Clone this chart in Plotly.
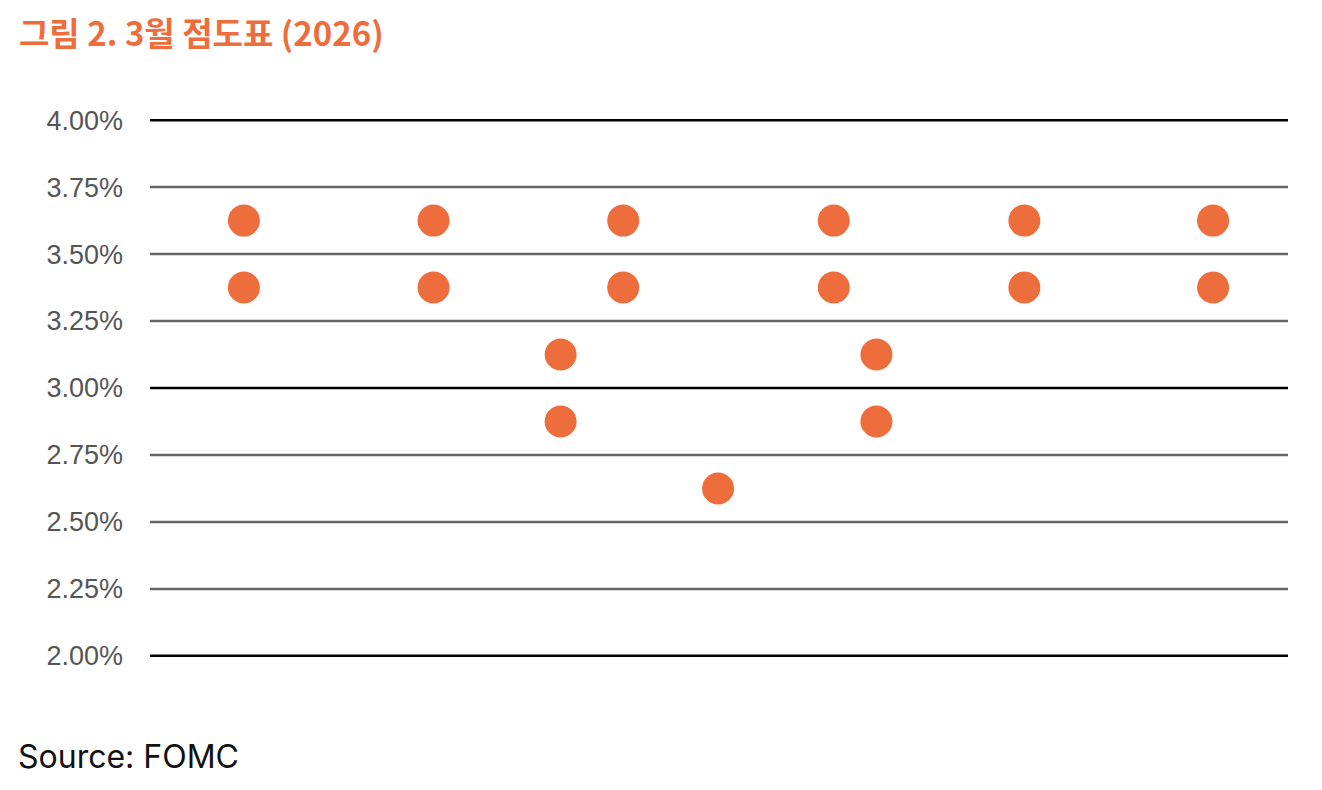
import plotly.graph_objects as go

# Dot plot data (position along the row, rate in %)
dot_x = [0.99, 0.99, 2.99, 2.99, 4.33, 4.33, 4.99, 4.99, 5.99,
         7.21, 7.21, 7.66, 7.66, 9.22, 9.22, 11.21, 11.21]
dot_y = [3.625, 3.375, 3.625, 3.375, 3.125, 2.875, 3.625, 3.375, 2.625,
         3.625, 3.375, 3.125, 2.875, 3.625, 3.375, 3.625, 3.375]

tick_vals = [2.00, 2.25, 2.50, 2.75, 3.00, 3.25, 3.50, 3.75, 4.00]
tick_text = ["2.00%", "2.25%", "2.50%", "2.75%", "3.00%", "3.25%", "3.50%", "3.75%", "4.00%"]
dark_lines = [2.00, 3.00, 4.00]

ORANGE = "#ED6D3D"

# page offset (body margin) compensation
OFF = 8
W, H = 1322 - OFF, 790 - OFF
PAD = 0.008            # small range padding so edge lines are not clipped
PX_PER_UNIT = 268.0
padpx = PAD * PX_PER_UNIT
ML, MR = 150 - OFF, 34
MT, MB = 120 - OFF - padpx, 134 - padpx

fig = go.Figure()
fig.add_trace(go.Scatter(
    x=dot_x, y=dot_y, mode="markers",
    marker=dict(color=ORANGE, size=32, line=dict(width=0)),
    hoverinfo="skip", showlegend=False,
))

# gridlines: black at whole percents, gray elsewhere
for v in tick_vals:
    col = "#000000" if v in dark_lines else "#666666"
    fig.add_shape(type="line", xref="paper", x0=0, x1=1, yref="y", y0=v, y1=v,
                  line=dict(color=col, width=2.5), layer="below")

plot_h = H - MT - MB
plot_w = W - ML - MR
bottom_px = H - MB + OFF  # page y of paper y=0


def py(page_y):
    return (bottom_px - page_y) / plot_h


fig.update_layout(
    width=W, height=H,
    margin=dict(l=ML, r=MR, t=MT, b=MB),
    paper_bgcolor="white", plot_bgcolor="white",
    xaxis=dict(range=[0, 12], visible=False, showgrid=False, zeroline=False, fixedrange=True),
    yaxis=dict(range=[2.0 - PAD, 4.0 + PAD], tickvals=tick_vals, ticktext=tick_text,
               showgrid=False, zeroline=False,
               showline=False, ticks="", ticklabelstandoff=26,
               tickfont=dict(family="Liberation Sans, Arial, sans-serif", size=27, color="#555555")),
    font=dict(family="Liberation Sans, Arial, sans-serif"),
    annotations=[
        dict(text="<b>그림 2. 3월 점도표 (2026)</b>", xref="paper", yref="paper",
             x=(17 - 150) / plot_w, y=py(32),
             xanchor="left", yanchor="middle", showarrow=False,
             font=dict(family="Noto Sans CJK KR, sans-serif", size=33, color=ORANGE)),
        dict(text="Source: FOMC", xref="paper", yref="paper",
             x=(16 - 150) / plot_w, y=py(757),
             xanchor="left", yanchor="middle", showarrow=False,
             font=dict(family="Inter, Lato, sans-serif", size=32, color="#111111")),
    ],
)

fig.write_html("out.html")
